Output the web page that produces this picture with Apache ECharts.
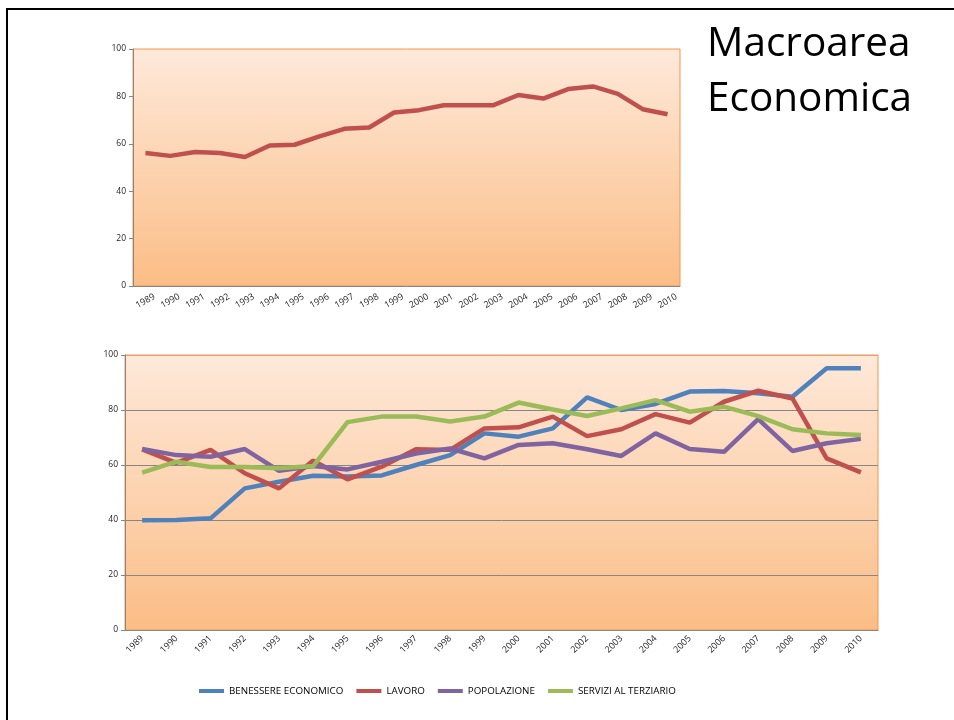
<!DOCTYPE html>
<html>
<head>
<meta charset="utf-8">
<script src="https://cdn.jsdelivr.net/npm/echarts@6/dist/echarts.min.js"></script>
<style>
  html, body { margin: 0; padding: 0; background: #fff; }
  #chart { width: 954px; height: 720px; }
</style>
</head>
<body>
<div id="chart"></div>
<script>
// anni (asse x di entrambi i grafici)
var years = ['1989','1990','1991','1992','1993','1994','1995','1996','1997','1998','1999',
             '2000','2001','2002','2003','2004','2005','2006','2007','2008','2009','2010'];

// grafico in alto: indice complessivo della macroarea
var macroarea = [56.1, 54.9, 56.5, 56.1, 54.4, 59.3, 59.6, 63.1, 66.3, 66.9, 73.2,
                 74.2, 76.3, 76.3, 76.3, 80.6, 79.1, 83.1, 84.2, 81.1, 74.6, 72.5];

// grafico in basso: le quattro componenti
var benessere = [39.9, 40.0, 40.6, 51.5, 53.9, 56.1, 55.8, 56.2, 60.0, 63.6, 71.5,
                 70.3, 73.3, 84.6, 80.0, 82.2, 86.7, 86.9, 86.1, 84.8, 95.2, 95.2];
var lavoro = [65.7, 60.8, 65.5, 57.0, 51.5, 61.6, 54.8, 59.4, 65.7, 65.5, 73.3,
              73.7, 77.6, 70.5, 73.0, 78.5, 75.4, 83.0, 87.0, 84.2, 62.4, 57.3];
var popolazione = [65.8, 63.6, 63.0, 65.8, 57.9, 59.6, 58.4, 61.2, 64.2, 66.0, 62.4,
                   67.3, 67.9, 65.7, 63.3, 71.5, 65.8, 64.8, 76.7, 65.1, 67.9, 69.5];
var servizi = [57.2, 61.2, 59.3, 59.3, 58.8, 59.6, 75.6, 77.6, 77.6, 75.8, 77.6,
               82.7, 80.2, 77.8, 80.6, 83.6, 79.4, 81.2, 77.8, 73.0, 71.5, 70.9];

var seriesNames = ['BENESSERE ECONOMICO', 'LAVORO', 'POPOLAZIONE', 'SERVIZI AL TERZIARIO'];
var seriesColors = ['#4f81bd', '#c0504d', '#8064a2', '#9bbb59'];
var yTicks = [0, 20, 40, 60, 80, 100];

var font = '"Open Sans", sans-serif';
var axisGray = '#868686';

function plotBg() {
    return new echarts.graphic.LinearGradient(0, 0, 0, 1, [
        { offset: 0, color: '#fee9da' },
        { offset: 1, color: '#fbbd86' }
    ]);
}

function yAxisOpt(gridIndex, showSplit) {
    return {
        type: 'value', gridIndex: gridIndex,
        min: yTicks[0], max: yTicks[yTicks.length - 1], interval: 20,
        axisLine: { show: true, lineStyle: { color: axisGray, width: 1 } },
        axisTick: { show: true, length: 4, lineStyle: { color: axisGray } },
        axisLabel: { fontSize: 8.5, color: '#262626', fontFamily: font, margin: 7 },
        splitLine: {
            show: showSplit,
            lineStyle: { color: [axisGray, axisGray, axisGray, axisGray, axisGray, '#dea27a'], width: 1 }
        }
    };
}

var myChart = echarts.init(document.getElementById('chart'));

var series = [{
    name: 'Macroarea',
    type: 'line',
    xAxisIndex: 0, yAxisIndex: 0,
    data: macroarea,
    showSymbol: false,
    lineStyle: { color: '#c0504d', width: 4.5 },
    itemStyle: { color: '#c0504d' }
}];
for (var i = 0; i < seriesNames.length; i++) {
    series.push({
        name: seriesNames[i],
        type: 'line',
        xAxisIndex: 1, yAxisIndex: 1,
        data: [benessere, lavoro, popolazione, servizi][i],
        showSymbol: false,
        lineStyle: { color: seriesColors[i], width: 4.5 },
        itemStyle: { color: seriesColors[i] }
    });
}

var option = {
    animation: false,
    title: {
        text: 'Macroarea\nEconomica',
        left: 702, top: 12,
        textStyle: { fontSize: 40.5, lineHeight: 55, fontWeight: 'normal', color: '#000', fontFamily: font }
    },
    graphic: [
        { type: 'line', shape: { x1: 7, y1: 9, x2: 7, y2: 720 }, style: { stroke: '#000', lineWidth: 2 } },
        { type: 'line', shape: { x1: 6, y1: 9, x2: 954, y2: 9 }, style: { stroke: '#000', lineWidth: 2 } }
    ],
    legend: {
        data: seriesNames,
        left: 194, top: 681,
        icon: 'rect', itemWidth: 25, itemHeight: 4, itemGap: 13,
        textStyle: { fontSize: 9.8, color: '#000', fontFamily: font }
    },
    grid: [
        { left: 133, top: 49, right: 274, bottom: 434, show: true,
          backgroundColor: plotBg(), borderColor: '#f79646', borderWidth: 1 },
        { left: 125, top: 355, right: 76, bottom: 90, show: true,
          backgroundColor: plotBg(), borderColor: '#f79646', borderWidth: 1 }
    ],
    xAxis: [
        { type: 'category', gridIndex: 0, data: years, boundaryGap: true,
          axisLine: { lineStyle: { color: axisGray } },
          axisTick: { length: 4, lineStyle: { color: axisGray } },
          axisLabel: { interval: 0, rotate: 30, align: 'center', verticalAlign: 'middle',
                       margin: 15, fontSize: 9, color: '#262626', fontFamily: font } },
        { type: 'category', gridIndex: 1, data: years, boundaryGap: true,
          axisLine: { lineStyle: { color: axisGray } },
          axisTick: { length: 4, lineStyle: { color: axisGray } },
          axisLabel: { interval: 0, rotate: 45, margin: 7, fontSize: 9, color: '#262626', fontFamily: font } }
    ],
    yAxis: [yAxisOpt(0, false), yAxisOpt(1, true)],
    series: series
};

myChart.setOption(option);
</script>
</body>
</html>
